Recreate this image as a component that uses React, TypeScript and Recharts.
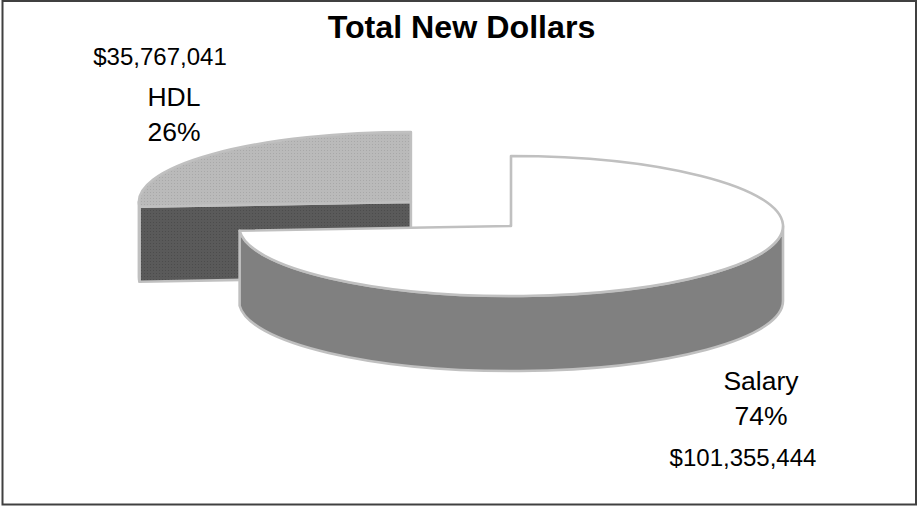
import { Pie, PieChart } from "recharts"

const WIDTH = 917
const HEIGHT = 506

const names = ["HDL", "Salary"]
const dollars = [35767041, 101355444]
const explode = [137, 0]
const topFills = ["url(#hdlTop)", "#ffffff"]
const sideFills = ["url(#hdlSide)", "#808080"]

const data = names.map((name, i) => ({
  name,
  value: dollars[i],
  explode: explode[i],
  topFill: topFills[i],
  sideFill: sideFills[i],
}))

// perspective of the tilted pie
const TILT = 70 / 272
const DEPTH = 75
const EDGE = "#c0c0c0"
const EDGE_WIDTH = 2.6
const FONT = "'Liberation Sans', Arial, sans-serif"

const toRad = (deg: number) => (deg * Math.PI) / 180

function Slice3D(props: any) {
  const { startAngle, endAngle, outerRadius: r, cx, cy, payload } = props
  const mid = toRad((startAngle + endAngle) / 2)
  const ox = cx + payload.explode * Math.cos(mid)
  const oy = cy - payload.explode * Math.sin(mid) * TILT
  const rx = r
  const ry = r * TILT

  const pt = (deg: number, drop = 0) =>
    `${ox + rx * Math.cos(toRad(deg))} ${oy - ry * Math.sin(toRad(deg)) + drop}`
  const large = endAngle - startAngle > 180 ? 1 : 0

  const top = `M${ox} ${oy} L${pt(startAngle)} A${rx} ${ry} 0 ${large} 0 ${pt(endAngle)} Z`

  // outer wall only shows along the front half of the ellipse
  const wallFrom = Math.max(startAngle, 180)
  const wallTo = Math.min(endAngle, 360)
  const hasWall = wallTo > wallFrom && wallFrom < 360
  const wall = `M${pt(wallFrom)} A${rx} ${ry} 0 0 0 ${pt(wallTo)} L${pt(wallTo, DEPTH)} A${rx} ${ry} 0 0 1 ${pt(wallFrom, DEPTH)} Z`

  // the cut face at the end of a slice looks toward the viewer when it points left
  const faceVisible = Math.cos(toRad(endAngle)) < -0.01
  const face = `M${ox} ${oy} L${pt(endAngle)} L${pt(endAngle, DEPTH)} L${ox} ${oy + DEPTH} Z`

  const edge = { stroke: EDGE, strokeWidth: EDGE_WIDTH, strokeLinejoin: "round" as const }
  return (
    <g>
      {faceVisible && <path d={face} fill={payload.sideFill} {...edge} />}
      {hasWall && <path d={wall} fill={payload.sideFill} {...edge} />}
      <path d={top} fill={payload.topFill} {...edge} />
    </g>
  )
}

function SliceLabel(props: any) {
  const { name, value, percent } = props
  const isHdl = name === "HDL"
  const nameX = isHdl ? 174 : 761
  const nameY = isHdl ? 106 : 390
  const amountX = isHdl ? 160 : 743
  const amountY = isHdl ? 65 : 466
  return (
    <g fontFamily={FONT} fill="#000000" textAnchor="middle">
      <text x={amountX} y={amountY} fontSize={24}>
        ${value.toLocaleString("en-US")}
      </text>
      <text x={nameX} y={nameY} fontSize={26.5}>
        {name}
      </text>
      <text x={nameX} y={nameY + 34.5} fontSize={26.5}>
        {Math.round(percent * 100)}%
      </text>
    </g>
  )
}

export default function App() {
  return (
    <div style={{ position: "absolute", left: 0, top: 0, width: WIDTH, height: HEIGHT }}>
      <PieChart width={WIDTH} height={HEIGHT} margin={{ top: 0, right: 0, bottom: 0, left: 0 }}>
        <defs>
          <pattern id="hdlTop" width={3} height={3} patternUnits="userSpaceOnUse">
            <rect width={3} height={3} fill="#bababa" />
            <rect width={1} height={1} fill="#a8a8a8" />
          </pattern>
          <pattern id="hdlSide" width={3} height={3} patternUnits="userSpaceOnUse">
            <rect width={3} height={3} fill="#5a5a5a" />
            <rect width={1} height={1} fill="#4c4c4c" />
          </pattern>
        </defs>
        <rect x={2.5} y={1} width={913.5} height={503.5} fill="#ffffff" stroke="#404040" strokeWidth={2} />
        <text x={461.5} y={38} textAnchor="middle" fontFamily={FONT} fontWeight="bold" fontSize={32.2} fill="#000000">
          Total New Dollars
        </text>
        <Pie
          data={data}
          dataKey="value"
          nameKey="name"
          cx={511}
          cy={226}
          outerRadius={272}
          startAngle={90}
          endAngle={450}
          paddingAngle={0}
          stroke="none"
          shape={Slice3D}
          label={SliceLabel}
          labelLine={false}
          isAnimationActive={false}
        />
      </PieChart>
    </div>
  )
}
